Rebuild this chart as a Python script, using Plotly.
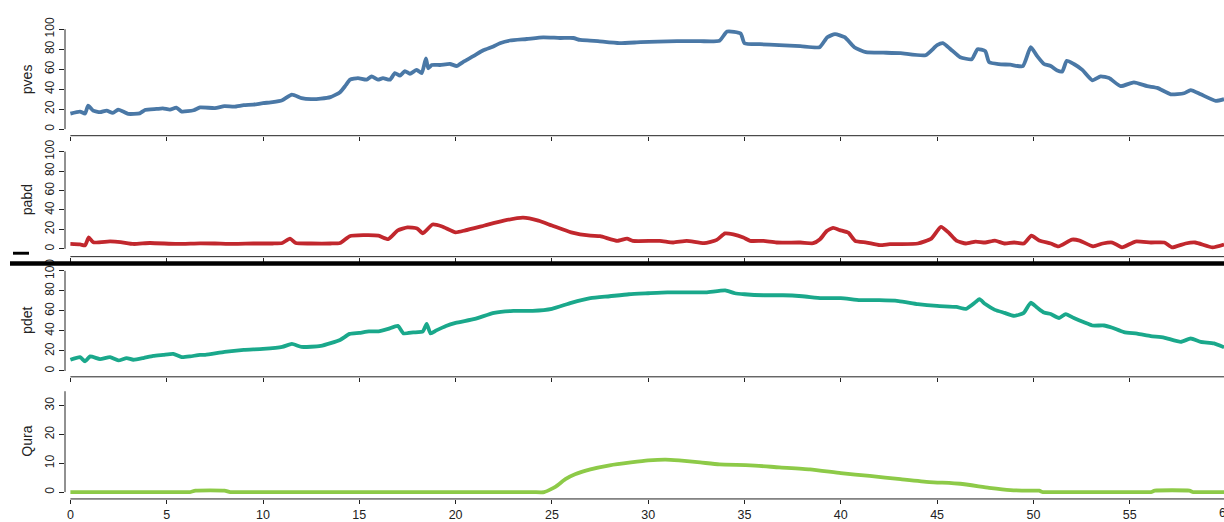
import plotly.graph_objects as go

# ---- data -------------------------------------------------------------
t_pves = [0, 0.5, 0.76, 0.92, 1.18, 1.54, 1.88, 2.2, 2.48, 2.74, 3.0, 3.6, 3.87, 4.48, 4.8,
          5.17, 5.5, 5.78, 6.4, 6.73, 7.5, 8.0, 8.5, 9.0, 9.5, 10.0, 10.5, 11.0, 11.5, 12.0,
          12.5, 13.0, 13.5, 14.0, 14.3, 14.52, 14.93, 15.38, 15.64, 15.97, 16.23, 16.59, 16.85,
          17.11, 17.37, 17.63, 17.98, 18.24, 18.46, 18.58, 18.76, 19.19, 19.71, 20.06, 20.4,
          20.92, 21.44, 21.96, 22.3, 22.82, 23.69, 24.55, 25.42, 26.11, 26.46, 26.98, 27.39,
          28.5, 29.6, 30.5, 31.5, 32.7, 33.7, 34.1, 34.8, 35.0, 35.8, 36.8, 37.9, 38.9, 39.3,
          39.7, 40.2, 40.7, 41.3, 42.2, 43.1, 44.4, 45.0, 45.3, 45.7, 46.2, 46.8, 47.1, 47.5,
          47.7, 48.2, 48.8, 49.45, 49.86, 50.2, 50.55, 50.9, 51.24, 51.5, 51.73, 52.1, 52.54,
          53.06, 53.49, 53.93, 54.53, 55.22, 55.91, 56.43, 57.13, 57.82, 58.17, 58.69, 59.47, 59.9]
pves = [15.6, 17.6, 15.6, 23.5, 18.6, 17.0, 18.6, 16.3, 19.5, 17.6, 15.3, 15.8, 19.2, 20.2, 20.8,
        19.5, 21.5, 17.6, 18.9, 21.8, 21.0, 23.0, 22.5, 24.0, 24.5, 26.0, 27.0, 29.0, 34.5, 31.0,
        30.0, 30.5, 32.0, 37.0, 44.0, 49.5, 51.0, 49.5, 52.8, 49.5, 51.0, 49.5, 56.0,
        53.5, 58.0, 55.4, 59.3, 56.0, 70.7, 60.9, 64.2, 64.2, 65.2, 63.2, 67.4,
        73.0, 78.9, 82.8, 86.0, 88.7, 90.2, 91.9, 91.2, 91.2, 89.2, 88.6, 88.0,
        86.0, 87.0, 87.5, 88.0, 88.0, 88.5, 97.7, 95.8, 86.0, 85.0, 84.0, 83.0, 82.0, 92.0,
        95.0, 92.0, 82.0, 77.0, 76.5, 76.0, 74.0, 84.0, 86.0, 80.0, 72.0, 70.0, 80.0, 78.0,
        67.0, 65.0, 64.5, 63.0, 82.0, 73.0, 65.2, 63.2, 58.6, 57.7, 68.4, 65.2, 59.3,
        48.9, 52.8, 51.1, 43.0, 46.9, 43.0, 41.3, 34.9, 35.9, 39.1, 34.9, 28.3, 30.0]

t_pabd = [0, 0.5, 0.76, 0.95, 1.19, 2.06, 2.6, 3.27, 4.13, 5.52, 6.73, 7.5, 8.5, 9.5, 10.5,
          11.0, 11.4, 11.7, 12.5, 13.5, 14.0, 14.5, 15.2, 16.0, 16.5, 17.0, 17.5, 18.0, 18.3,
          18.8, 19.3, 20.0, 20.5, 21.5, 22.5, 23.5, 24.3, 25.0, 26.0, 27.0, 27.5, 28.4, 28.9,
          29.2, 30.6, 31.3, 32.0, 32.9, 33.56, 33.99, 34.42, 34.94, 35.29, 35.98, 36.67, 37.9,
          38.57, 38.92, 39.27, 39.6, 39.95, 40.39, 40.74, 41.34, 42.03, 42.55, 43.07, 44.0,
          44.7, 45.2, 45.6, 46.0, 46.5, 47.0, 47.5, 48.0, 48.5, 49.0, 49.5, 49.9, 50.3, 50.9,
          51.3, 52.0, 52.4, 53.1, 53.6, 54.1, 54.6, 55.3, 56.1, 56.8, 57.2, 57.9, 58.4, 59.3, 59.9]
pabd = [5.0, 4.5, 3.5, 11.7, 6.7, 7.7, 7.0, 5.0, 6.0, 5.0, 5.7, 5.5, 5.0, 5.5, 5.5,
        6.0, 10.5, 6.0, 5.5, 5.5, 6.0, 13.0, 14.0, 13.5, 10.0, 19.0, 22.0, 21.0, 16.0,
        25.0, 23.0, 17.0, 19.0, 24.0, 29.0, 32.0, 29.0, 24.0, 17.0, 13.5, 13.0, 8.2, 10.5,
        8.2, 8.2, 6.5, 8.2, 5.8, 9.2, 15.9, 14.9, 11.6, 8.2, 8.2, 6.5, 6.5,
        5.8, 9.8, 18.3, 21.6, 19.3, 16.6, 8.2, 6.5, 3.8, 4.8, 4.8, 5.5,
        10.5, 22.6, 16.6, 8.5, 5.5, 7.5, 6.5, 8.5, 5.5, 6.5, 5.5, 13.5, 8.5, 5.5,
        2.5, 9.5, 8.5, 2.5, 5.5, 6.5, 1.5, 7.5, 6.5, 6.5, 1.5, 5.5, 6.5, 1.5, 4.5]

t_pdet = [0, 0.5, 0.76, 1.02, 1.54, 2.06, 2.49, 2.92, 3.27, 3.79, 4.3, 4.82, 5.34, 5.78, 6.21,
          6.73, 7, 8, 9, 10, 11, 11.5, 12, 13, 14, 14.5, 15, 15.5, 16, 16.5, 17, 17.3, 17.8,
          18.3, 18.5, 18.7, 19, 19.5, 20, 21, 22, 23, 24, 25, 26, 27, 28, 29, 30, 31, 32, 33,
          34, 34.5, 35, 36, 37, 38, 39, 40, 41, 42, 43, 44, 45, 46, 46.5, 47, 47.2, 47.5, 48,
          48.5, 49, 49.5, 49.86, 50.2, 50.55, 50.9, 51.33, 51.68, 52.1, 52.63, 53.06, 53.67,
          54.1, 54.7, 55.39, 56.09, 56.78, 57.65, 58.17, 58.69, 59.38, 59.9]
pdet = [11.2, 13.8, 9.6, 14.5, 11.9, 13.8, 10.5, 12.9, 11.2, 12.9, 15.1, 16.1, 17.1, 13.8, 14.5,
        16.1, 16.0, 19.0, 21.0, 22.0, 24.0, 27.0, 24.0, 25.0, 31.0, 37.0, 38.0, 39.5, 39.5, 42.0,
        45.0, 37.5, 38.5, 39.5, 47.0, 37.5, 40.5, 45.0, 48.0, 52.0, 58.0, 60.0, 60.0, 62.0,
        68.0, 72.7, 74.6, 76.6, 77.6, 78.5, 78.5, 78.5, 80.5, 77.6, 76.6, 75.6, 75.6, 74.6,
        72.7, 72.7, 70.7, 70.7, 69.8, 66.8, 64.9, 63.9, 62.0, 68.8, 71.7, 66.8, 61.0, 58.0,
        55.0, 58.0, 68.1, 63.2, 58.3, 56.8, 52.9, 56.8, 52.9, 48.6, 45.4, 45.4, 43.1, 38.8,
        37.3, 34.9, 33.4, 29.1, 32.4, 29.1, 27.5, 23.6]

t_qura = [0, 3.0, 6.0, 6.2, 6.5, 8.0, 8.3, 9.0, 12.0, 16.0, 20.0, 24.0, 24.6, 25.2, 25.7,
          26.2, 27.0, 28.0, 29.1, 30.0, 30.9, 31.6, 32.7, 33.7, 35.3, 36.8, 38.4, 40.0, 41.5,
          43.1, 44.6, 46.2, 47.7, 48.8, 49.8, 50.3, 50.5, 51.0, 53.0, 55.5, 56.1, 56.3, 58.1,
          58.3, 59.0, 60.0]
qura = [0, 0, 0, 0, 0.5, 0.5, 0, 0, 0, 0, 0, 0, 0, 1.9, 4.5,
        6.2, 7.9, 9.3, 10.3, 11.0, 11.3, 11.0, 10.3, 9.6, 9.3, 8.6, 7.9, 6.6, 5.6,
        4.5, 3.5, 2.9, 1.5, 0.7, 0.5, 0.5, 0, 0, 0, 0, 0, 0.5, 0.5,
        0, 0, 0]

x_ticks = list(range(0, 61, 5))
pct_ticks = [0, 20, 40, 60, 80, 100]
flow_ticks = [0, 10, 20, 30]

# ---- figure geometry (pixels) -----------------------------------------
W, H = 1224, 522
FONT = "Liberation Sans, Arial, Helvetica, sans-serif"


def py(px):
    return 1 - px / H


panels = [
    # name, values, times, colour, px of value 0, px per unit, axis px, top px, ticks, axis top, label centre
    ("pves", pves, t_pves, "#4a78a6", 124.0, 1.023, 130.7, 8.0, pct_ticks, 100, 50),
    ("pabd", pabd, t_pabd, "#c1272d", 246.5, 0.995, 254.5, 140.0, pct_ticks, 100, 50),
    ("pdet", pdet, t_pdet, "#1aa88b", 371.5, 1.025, 377.5, 265.0, pct_ticks, 100, 50),
    ("Qura", qura, t_qura, "#8dca48", 495.5, 2.95, 502.5, 390.0, flow_ticks, 35, 17.5),
]

x_left_px, x0_px, px_per_min = 65.0, 70.4, 19.26
x_range = [(x_left_px - x0_px) / px_per_min, (W - x0_px) / px_per_min]

fig = go.Figure()
layout = dict(
    width=W, height=H, autosize=False,
    margin=dict(l=0, r=0, t=0, b=0),
    paper_bgcolor="white", plot_bgcolor="white",
    showlegend=False,
    font=dict(family=FONT, size=12, color="#222222"),
)
shapes = []
annotations = []

for i, (name, vals, times, col, zero_px, ppu, axis_px, top_px, ticks, ytop, mid) in enumerate(panels):
    k = "" if i == 0 else str(i + 1)
    xa, ya = "x" + k, "y" + k
    fig.add_trace(go.Scatter(x=times, y=vals, mode="lines", xaxis=xa, yaxis=ya,
                             line=dict(color=col, width=3.8, shape="spline", smoothing=0.5),
                             hoverinfo="skip"))
    y_lo = (zero_px - axis_px) / ppu
    y_hi = (zero_px - top_px) / ppu
    layout["xaxis" + k] = dict(
        domain=[x_left_px / W, 1], range=x_range, anchor=ya,
        tickvals=x_ticks, ticks="outside", ticklen=4, tickwidth=1, tickcolor="#222",
        showticklabels=(i == 3), showgrid=False, zeroline=False, showline=False,
        tickfont=dict(size=12.5, color="#222"),
        **({} if i == 0 else {"matches": "x"}),
    )
    layout["yaxis" + k] = dict(
        domain=[py(axis_px), py(top_px)], range=[y_lo, y_hi], anchor=xa,
        tickvals=ticks, ticks="outside", ticklen=5, tickwidth=1, tickcolor="#222",
        tickangle=-90, showgrid=False, zeroline=False, showline=False,
        tickfont=dict(size=12, color="#222"),
    )
    # bottom axis line from the first tick to the right edge
    shapes.append(dict(type="line", xref=xa, yref=ya + " domain", x0=0, x1=x_range[1],
                       y0=0, y1=0, line=dict(color="#222", width=1)))
    # left axis line spanning the tick range
    shapes.append(dict(type="line", xref=xa + " domain", yref=ya, x0=0, x1=0,
                       y0=0, y1=ytop, line=dict(color="#222", width=1)))
    annotations.append(dict(text=name, xref="paper", yref=ya, x=27 / W, y=mid,
                            textangle=-90, showarrow=False, xanchor="center", yanchor="middle",
                            font=dict(size=14, color="#222")))

# last tick label sits just past the right edge of the page
annotations.append(dict(text="60", xref="paper", yref="paper",
                        x=(x0_px + 60 * px_per_min) / W, y=py(517),
                        showarrow=False, xanchor="center", yanchor="middle",
                        font=dict(size=12.5, color="#222")))

# separator bar and small marker
shapes.append(dict(type="rect", xref="paper", yref="paper", x0=10 / W, x1=1,
                   y0=py(263.7), y1=py(259.3), fillcolor="black", line=dict(width=0)))
shapes.append(dict(type="rect", xref="paper", yref="paper", x0=13 / W, x1=29 / W,
                   y0=py(252.5), y1=py(249.5), fillcolor="black", line=dict(width=0)))

layout["shapes"] = shapes
layout["annotations"] = annotations
fig.update_layout(**layout)
fig.write_html("out.html")
